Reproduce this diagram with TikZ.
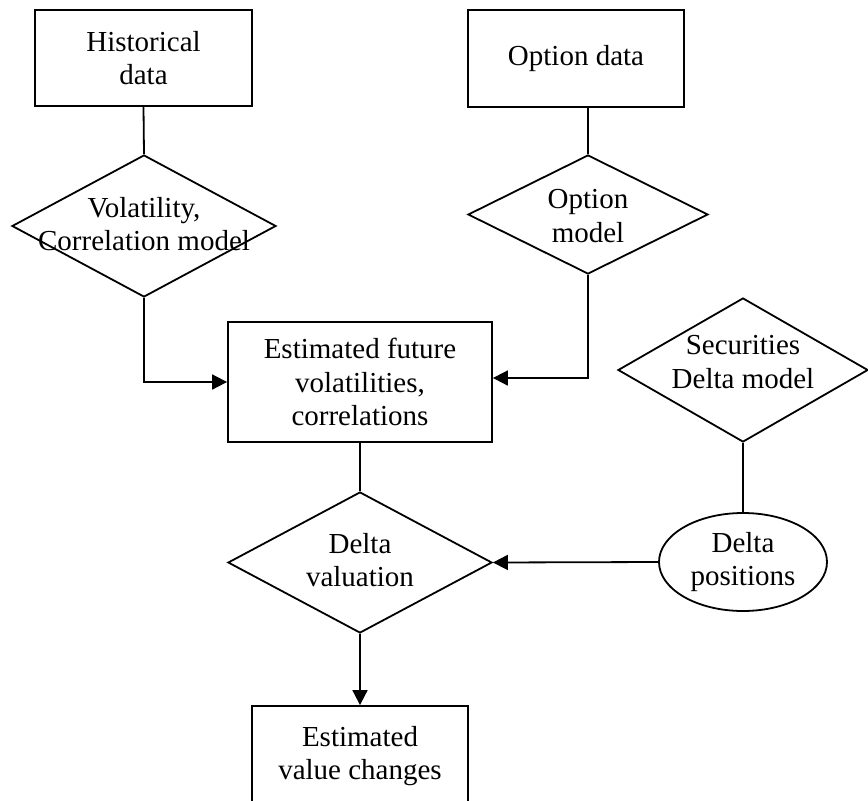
\documentclass[tikz,border=0pt]{standalone}
\usepackage{fontspec}
\setmainfont{Liberation Serif}
\usetikzlibrary{shapes.geometric,arrows.meta}
\newcommand\dfont{\fontsize{29}{33.5}\selectfont}
\tikzset{
  box/.style={draw, line width=1.8pt, rectangle, inner sep=0pt, align=center, font=\dfont},
  dia/.style={draw, line width=1.8pt, diamond, inner sep=0pt},
  dtext/.style={align=center, font=\dfont, inner sep=0pt},
  oval/.style={draw, line width=1.8pt, ellipse, inner sep=0pt, align=center, font=\dfont},
  conn/.style={line width=1.8pt},
  arr/.style={line width=1.8pt, -{Triangle[length=15pt,width=15pt]}},
}
\begin{document}
\begin{tikzpicture}[x=1pt,y=-1pt]
\useasboundingbox (0,0) rectangle (868,801);
\clip (0,0) rectangle (868,801);
\fill[white] (0,0) rectangle (868,801);
% boxes
\node[box, minimum width=217pt, minimum height=96pt] (hist) at (143.5,58) {Historical\\data};
\node[box, minimum width=216pt, minimum height=97pt] (optdata) at (576,58.5) {Option data};
\node[box, minimum width=264pt, minimum height=120pt] (est) at (360,382) {Estimated future\\volatilities,\\correlations};
\node[box, minimum width=216pt, minimum height=100pt] (val) at (360,756) {Estimated\\value changes};
% diamonds
\node[dia, minimum width=264pt, minimum height=142pt] (vol) at (144,226) {};
\node[dtext] (voltext) at (144,224) {Volatility,\\Correlation model};
\node[dia, minimum width=240pt, minimum height=119pt] (opt) at (588,214.5) {};
\node[dtext] (opttext) at (588,216) {Option\\model};
\node[dia, minimum width=250pt, minimum height=144pt] (sec) at (743,370) {};
\node[dtext] (sectext) at (743,362) {Securities\\Delta model};
\node[dia, minimum width=264pt, minimum height=141pt] (dv) at (360,562.5) {};
\node[dtext] (dvtext) at (360,560) {Delta\\valuation};
% ellipse
\node[oval, minimum width=168pt, minimum height=98pt] (ell) at (743,562) {Delta\\positions};
% connectors
\draw[conn] (hist.south) -- (vol.north);
\draw[conn] (opt.north) -- (opt.north |- optdata.south);
\draw[arr] (vol.south) |- (est.west);
\draw[arr] (opt.south) |- ([yshift=4pt]est.east);
\draw[conn] (est.south) -- (dv.north);
\draw[conn] (sec.south) -- (ell.north);
\draw[arr] (ell.west) -- (dv.east);
\draw[arr] (dv.south) -- (val.north);
\end{tikzpicture}
\end{document}
